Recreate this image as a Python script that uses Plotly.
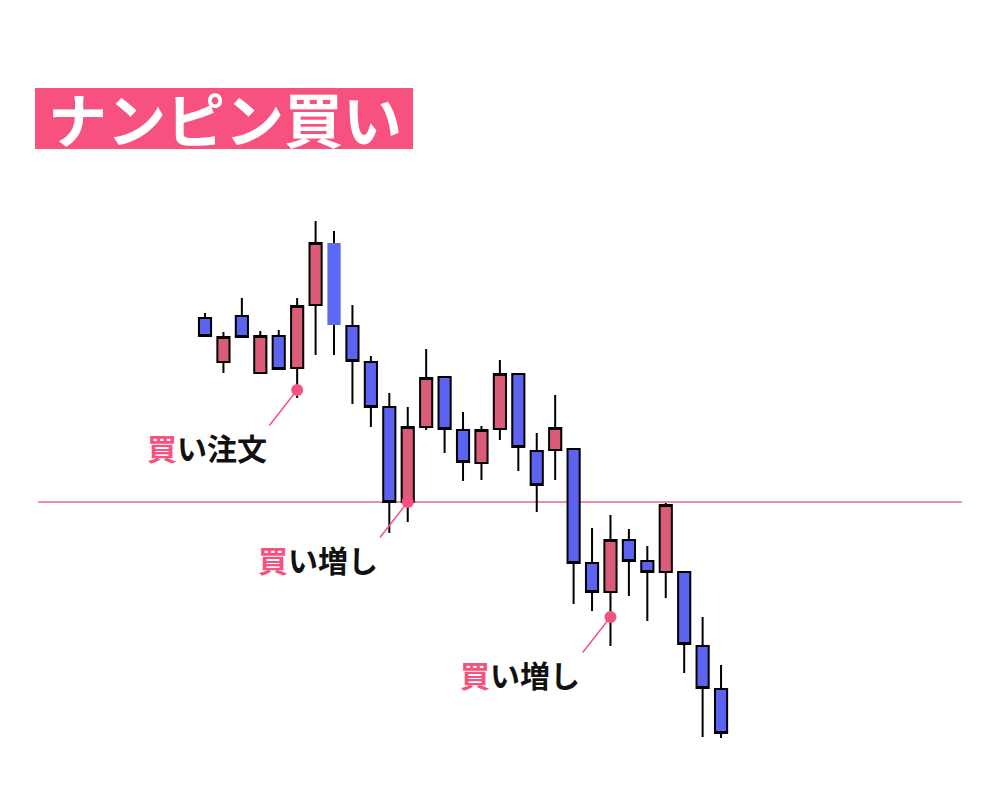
import plotly.graph_objects as go

# candle data (price units), index 0..28
opens  = [482, 438, 484, 427, 464, 432, 495, 557, 474, 438, 393, 298, 373, 423, 370,
          337, 371, 426, 349, 350, 351, 237, 208, 260, 239, 228, 228, 154, 111]
highs  = [487, 468, 502, 469, 470, 502, 579, 569, 495, 444, 407, 393, 451, 423, 388,
          374, 440, 426, 367, 405, 351, 272, 285, 271, 254, 297, 228, 183, 135]
lows   = [464, 427, 463, 427, 431, 402, 445, 445, 396, 373, 267, 278, 370, 347, 319,
          320, 360, 329, 288, 320, 196, 189, 154, 204, 179, 202, 127,  63,  62]
closes = [464, 463, 463, 464, 431, 494, 557, 475, 439, 393, 298, 373, 422, 371, 338,
          370, 426, 353, 315, 372, 237, 208, 260, 239, 228, 295, 156, 112,  67]

highlight = 7          # the light blue candle without border
entry_level = 298      # horizontal line

# buy points: (candle index, price, label)
buy_idx    = [5, 11, 22]
buy_price  = [410, 298, 183]
buy_labels = ["注文", "増し", "増し"]

title_text = "ナンピン買い"

RED = "#db5c79"
BLUE = "#5b63f0"
PINK = "#f5527f"
FONT = "Noto Sans CJK JP"

# page has an 8px body margin -> shift everything by it
OFF = 8


def px(x):
    return (x - OFF) / 1000


def py(y):
    return 1 - (y - OFF) / 800


idx = list(range(len(opens)))
keep = [i for i in idx if i != highlight]

fig = go.Figure()

fig.add_trace(go.Candlestick(
    x=keep,
    open=[opens[i] for i in keep], high=[highs[i] for i in keep],
    low=[lows[i] for i in keep], close=[closes[i] for i in keep],
    increasing=dict(fillcolor=RED, line=dict(color="black", width=2)),
    decreasing=dict(fillcolor=BLUE, line=dict(color="black", width=2)),
    hoverinfo="skip", showlegend=False,
))

# highlighted candle: borderless body + black wicks
h = highlight
top, bot = max(opens[h], closes[h]), min(opens[h], closes[h])
fig.add_trace(go.Bar(x=[h], y=[top - bot], base=[bot], width=0.72,
                     marker=dict(color="#5c6af6", line=dict(width=0)),
                     hoverinfo="skip", showlegend=False))
fig.add_trace(go.Scatter(x=[h, h, None, h, h], y=[highs[h], top, None, bot, lows[h]],
                         mode="lines", line=dict(color="black", width=2),
                         hoverinfo="skip", showlegend=False))

fig.add_shape(type="line", xref="paper", yref="y", x0=px(38), x1=px(962),
              y0=entry_level, y1=entry_level, line=dict(color="#e5698a", width=1.5),
              layer="below")

fig.add_trace(go.Scatter(x=buy_idx, y=buy_price, mode="markers",
                         marker=dict(color=PINK, size=12),
                         hoverinfo="skip", showlegend=False))

for i, p, lab in zip(buy_idx, buy_price, buy_labels):
    # leader line
    fig.add_annotation(x=i, y=p, text="", showarrow=True, arrowhead=0,
                       ax=-29, ay=37, arrowwidth=1.5, arrowcolor=PINK, standoff=0)
    fig.add_annotation(
        x=i, y=p, showarrow=False, xshift=-90, yshift=-57,
        xanchor="center", yanchor="middle",
        text=f"<b><span style='color:{PINK}'>買</span>い{lab}</b>",
        font=dict(family=FONT, size=30, color="#111111", weight=900),
    )

# title box
fig.add_shape(type="rect", xref="paper", yref="paper", x0=px(35), x1=px(413),
              y0=py(149), y1=py(88), fillcolor="#f7527f", line=dict(width=0))
fig.add_annotation(xref="paper", yref="paper", x=px(225), y=py(118),
                   xanchor="center", yanchor="middle",
                   text=f"<b>{title_text}</b>", showarrow=False,
                   font=dict(family=FONT, size=59, color="white", weight=900))

fig.update_layout(
    width=1000, height=800,
    margin=dict(l=0, r=0, t=0, b=0),
    paper_bgcolor="white", plot_bgcolor="white",
    boxgap=0.34, boxgroupgap=0,
    xaxis=dict(range=[-10.69, 43.57], visible=False, rangeslider=dict(visible=False),
               fixedrange=True),
    yaxis=dict(range=[-OFF, 800 - OFF], visible=False, fixedrange=True),
    showlegend=False,
)

fig.write_html("out.html")
